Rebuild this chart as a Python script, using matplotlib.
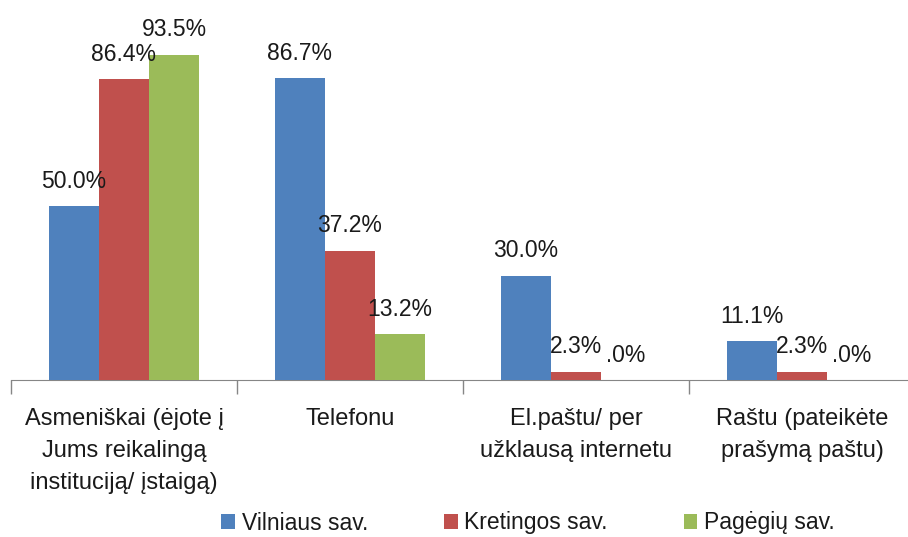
import matplotlib.pyplot as plt
import matplotlib.transforms as mtransforms
import numpy as np

categories = ['Asmeniškai (ėjote į\nJums reikalingą\ninstituciją/ įstaigą)',
              'Telefonu',
              'El.paštu/ per\nužklausą internetu',
              'Raštu (pateikėte\nprašymą paštu)']
series_names = ['Vilniaus sav.', 'Kretingos sav.', 'Pagėgių sav.']
vilnius = [50.0, 86.7, 30.0, 11.1]
kretinga = [86.4, 37.2, 2.3, 2.3]
pagegiai = [93.5, 13.2, 0.0, 0.0]
colors = ['#4F81BD', '#C0504D', '#9BBB59']

font = 'Liberation Sans'
fs = 16.5

W, H = 908, 537
fig = plt.figure(figsize=(W / 100, H / 100), dpi=100)
# axes box in pixels: x 11..915, y 32..380 (from top)
ax = fig.add_axes([11 / W, (H - 380) / H, (915 - 11) / W, 348 / H])

x = np.arange(len(categories)) + 0.5
bw = 50 / 226
all_series = [vilnius, kretinga, pagegiai]

for i, vals in enumerate(all_series):
    pos = x + (i - 1) * bw
    ax.bar(pos, vals, width=bw, color=colors[i], label=series_names[i], zorder=3)
    for px, v in zip(pos, vals):
        dx, z, box = 0, 4, None
        if v == 0:
            # zero labels sit partly under the neighbouring label, like the original
            dx, z = -5, 2
        elif v < 5:
            z = 2.5
            box = dict(facecolor='white', edgecolor='none', pad=4.5)
        ax.annotate(f'{v:.1f}%', (px, v), xytext=(dx, 18), textcoords='offset points',
                    ha='center', va='center', fontsize=fs, family=font,
                    color='#1a1a1a', zorder=z, bbox=box)

ax.set_xlim(0, 4)
ax.set_ylim(0, 100)
ax.set_yticks([])
ax.set_xticks([0, 1, 2, 3, 4])
ax.set_xticklabels([])
ax.tick_params(axis='x', length=10, color='#868686', width=1)
for s in ['top', 'right', 'left']:
    ax.spines[s].set_visible(False)
ax.spines['bottom'].set_color('#868686')

trans = mtransforms.blended_transform_factory(ax.transData, fig.transFigure)
for cx, lab in zip(x, categories):
    ax.text(cx, (H - 408) / H, lab, transform=trans, ha='center', va='top',
            fontsize=17, family=font, color='#1a1a1a', linespacing=1.6)

leg = fig.legend(loc='center', bbox_to_anchor=(528 / W, (H - 523) / H), ncol=3,
                 frameon=False, prop={'family': font, 'size': fs},
                 handlelength=0.6, handleheight=0.6, handletextpad=0.3,
                 columnspacing=3.3, borderaxespad=0)
for t in leg.get_texts():
    t.set_color('#1a1a1a')

fig.savefig('out.png', dpi=100)
